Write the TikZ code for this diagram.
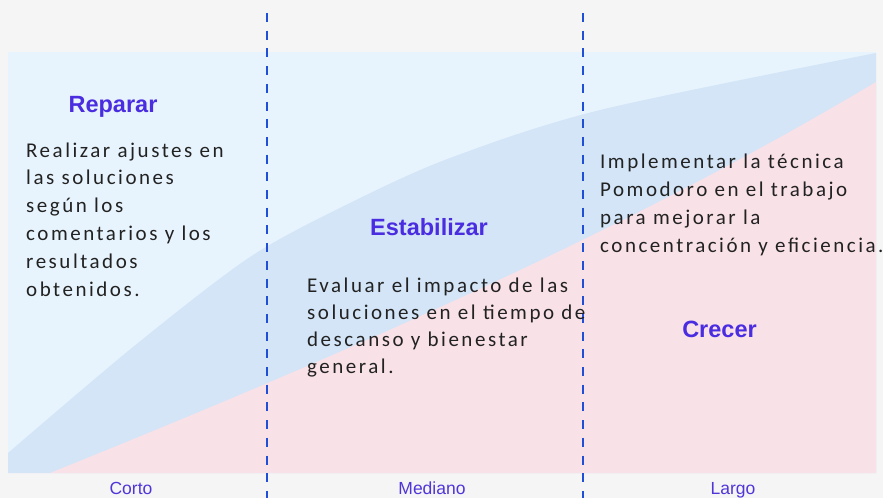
\documentclass[tikz,border=0pt]{standalone}
\usepackage{fontspec}
\setmainfont{Liberation Sans}
\newfontfamily\bodyfont[LetterSpace=12]{Carlito}
\definecolor{outerbg}{HTML}{F5F5F5}
\definecolor{lightarea}{HTML}{E8F4FD}
\definecolor{bluearea}{HTML}{D3E5F7}
\definecolor{pinkarea}{HTML}{F9E1E8}
\definecolor{dashcol}{HTML}{1F4FD6}
\definecolor{titlecol}{HTML}{4A2DE0}
\definecolor{termcol}{HTML}{5035D8}
\definecolor{bodycol}{HTML}{222222}
\begin{document}
\begin{tikzpicture}[x=1pt,y=-1pt,
		title/.style={font=\fontsize{23.5}{28}\selectfont\bfseries,text=titlecol,inner sep=0,anchor=base},
		body/.style={font=\bodyfont\fontsize{21}{27}\selectfont,text=bodycol,inner sep=0,anchor=base west},
		term/.style={font=\fontsize{17.5}{20}\selectfont,text=termcol,inner sep=0,anchor=base},
		divider/.style={draw=dashcol,line width=2.4pt,dash pattern=on 9pt off 8.7pt}]
	\useasboundingbox (0,0) rectangle (883,498);
	\fill [outerbg] (0,0) rectangle (883,498);
	% bands
	\fill [lightarea] (8,52) rectangle (876,473);
	\fill [bluearea] plot[smooth] coordinates {(8,453) (133,347) (250,257) (350,203) (450,158) (600,110) (876,53)} -- (876,473) -- (8,473) -- cycle;
	\fill [pinkarea] (50,473) .. controls (330,360) and (620,235) .. (876,82) -- (876,473) -- cycle;
	% dividers
	\coordinate (D1) at (267,13);
	\coordinate (E1) at (267,498);
	\coordinate (D2) at (583,13);
	\coordinate (E2) at (583,498);
	\draw [divider] (D1) -- (E1);
	\draw [divider] (D2) -- (E2);
	% titles
	\node [title] (reparar) at (113,112) {Reparar};
	\node [title] (estabilizar) at (429,235) {Estabilizar};
	\node [title] (crecer) at (719.5,337) {Crecer};
	% texts
	\foreach \txt [count=\i] in {Realizar ajustes en,las soluciones,según los,comentarios y los,resultados,obtenidos.}
		\node [body] (rep\i) at (26,{157+(\i-1)*27.8}) {\txt};
	\foreach \txt [count=\i] in {Evaluar el impacto de las,soluciones en el tiempo de,descanso y bienestar,general.}
		\node [body] (est\i) at (307,{292+(\i-1)*27}) {\txt};
	\foreach \txt [count=\i] in {Implementar la técnica,Pomodoro en el trabajo,para mejorar la,concentración y eficiencia.}
		\node [body] (cre\i) at (600,{168+(\i-1)*28}) {\txt};
	% terms
	\node [term] (corto) at (131,494) {Corto};
	\node [term] (mediano) at (432,494) {Mediano};
	\node [term] (largo) at (733,494) {Largo};
\end{tikzpicture}
\end{document}
